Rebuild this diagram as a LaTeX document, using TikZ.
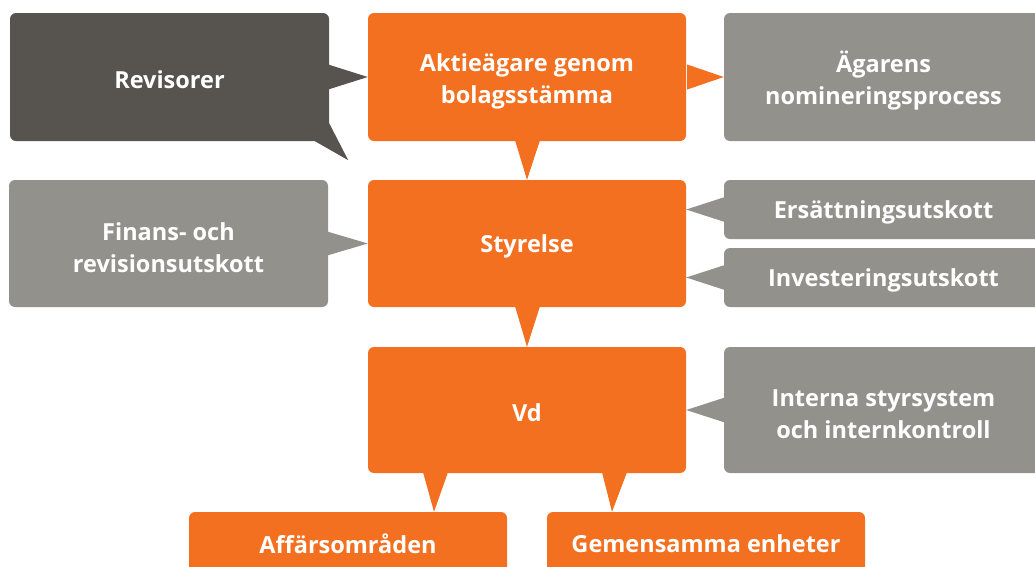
\documentclass[tikz,border=0pt]{standalone}
\usepackage{fontspec}
\setmainfont{Open Sans}
\usetikzlibrary{calc}
\definecolor{orng}{HTML}{F37021}
\definecolor{dgray}{HTML}{57544F}
\definecolor{lgray}{HTML}{93918C}
\begin{document}
\begin{tikzpicture}[x=1pt,y=-1pt,
  box/.style={rounded corners=6pt, inner sep=0pt, minimum width=319pt},
  txt/.style={inner sep=0pt, text=white, align=center,
    font=\fontsize{23.5}{32}\selectfont\bfseries},
  lbl/.style={txt, yshift=-3pt},
  lbltwo/.style={txt, yshift=-4pt},
  lblbot/.style={txt, yshift=1pt},
  obox/.style={box, fill=orng},
  dbox/.style={box, fill=dgray},
  gbox/.style={box, fill=lgray},
  tall/.style={minimum height=128pt},
  short/.style={minimum height=59pt}]
\useasboundingbox (0,0) rectangle (1035,566);
\clip (0,0) rectangle (1035,566);
% top row
\node[dbox, tall, label={[lbl]center:Revisorer}] (rev) at (169.5,77) {};
\node[obox, tall, minimum width=318pt, label={[lbltwo]center:{Aktieägare genom\\bolagsstämma}}] (akt) at (527,77) {};
\node[gbox, tall, label={[lbltwo]center:{Ägarens\\nomineringsprocess}}] (nom) at (883.5,77) {};
% middle row
\node[gbox, minimum height=127pt, label={[lbltwo]center:{Finans- och\\revisionsutskott}}] (fin) at (168.5,243.5) {};
\node[obox, minimum height=127pt, minimum width=318pt, label={[lbl]center:Styrelse}] (sty) at (527,243.5) {};
\node[gbox, short, label={[lbl]center:Ersättningsutskott}] (ers) at (883.5,209.5) {};
\node[gbox, short, label={[lbl]center:Investeringsutskott}] (inv) at (883.5,277.5) {};
% lower row
\node[obox, minimum height=126pt, minimum width=318pt, label={[lbl]center:Vd}] (vd) at (527,410) {};
\node[gbox, minimum height=126pt, label={[lbltwo]center:{Interna styrsystem\\och internkontroll}}] (int) at (883.5,410) {};
% bottom row
\node[obox, minimum height=66pt, minimum width=318pt, label={[lblbot]center:Affärsområden}] (aff) at (348,545) {};
\node[obox, minimum height=66pt, minimum width=318pt, label={[lblbot]center:Gemensamma enheter}] (gem) at (706,545) {};
% pointers
\fill[dgray] ($(rev.east)+(-1,-12.5)$) -- (akt.west) -- ($(rev.east)+(-1,12.5)$) -- cycle;
\fill[dgray] ($(rev.south east)+(0,-18)$) -- ($(rev.south east)+(19,19)$) -- ($(rev.south east)+(-16,-1)$) -- ($(rev.south east)+(-2,-2)$) -- cycle;
\fill[orng] ($(akt.east)+(1,-12.5)$) -- (nom.west) -- ($(akt.east)+(1,12.5)$) -- cycle;
\fill[orng] ($(akt.south)+(-12,-1)$) -- (sty.north) -- ($(akt.south)+(13,-1)$) -- cycle;
\fill[lgray] ($(fin.east)+(-1,-12)$) -- (sty.west) -- ($(fin.east)+(-1,12)$) -- cycle;
\fill[lgray] ($(ers.west)+(1,-12.5)$) -- (sty.east |- ers.west) -- ($(ers.west)+(1,12.5)$) -- cycle;
\fill[lgray] ($(inv.west)+(1,-12.5)$) -- (sty.east |- inv.west) -- ($(inv.west)+(1,12.5)$) -- cycle;
\fill[orng] ($(sty.south)+(-12,-1)$) -- (vd.north) -- ($(sty.south)+(13,-1)$) -- cycle;
\fill[lgray] ($(int.west)+(1,-12.5)$) -- (vd.east |- int.west) -- ($(int.west)+(1,12.5)$) -- cycle;
\coordinate (vl) at ($(vd.south)+(-93,0)$);
\coordinate (vr) at ($(vd.south)+(85,0)$);
\fill[orng] ($(vd.south)+(-104,-1)$) -- (vl |- aff.north) -- ($(vd.south)+(-79,-1)$) -- cycle;
\fill[orng] ($(vd.south)+(75,-1)$) -- (vr |- gem.north) -- ($(vd.south)+(100,-1)$) -- cycle;
\end{tikzpicture}
\end{document}
